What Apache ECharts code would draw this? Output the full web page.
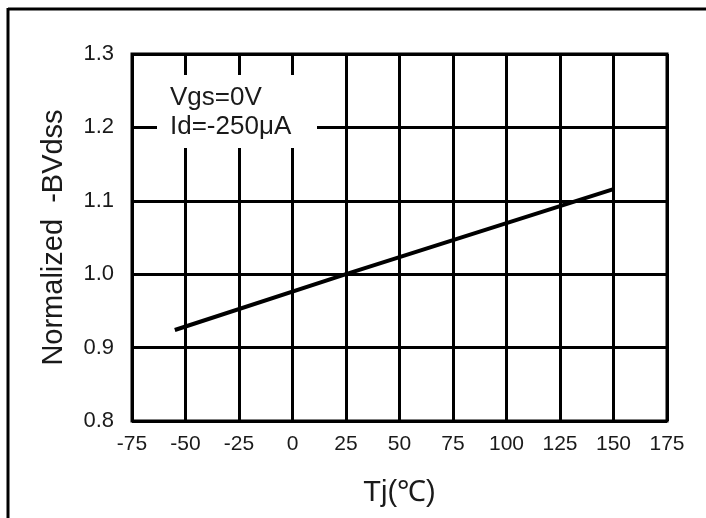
<!DOCTYPE html>
<html>
<head>
<meta charset="utf-8">
<script src="https://cdn.jsdelivr.net/npm/echarts@6/dist/echarts.min.js"></script>
<style>
html,body{margin:0;padding:0;background:#fff;}
#c{width:706px;height:518px;}
</style>
</head>
<body>
<div id="c"></div>
<script>
const temps = [-55, 25, 150];
const bvdss = [0.924, 1.0, 1.116];
const xTicks = [-75, -50, -25, 0, 25, 50, 75, 100, 125, 150, 175];
const yTicks = [0.8, 0.9, 1.0, 1.1, 1.2, 1.3];
const annotation = ['Vgs=0V', 'Id=-250μA'];

const FONT = '"Liberation Sans", Arial, sans-serif';
const chart = echarts.init(document.getElementById('c'), null, {renderer: 'canvas'});
chart.setOption({
  backgroundColor: '#fff',
  animation: false,
  grid: {left: 132, right: 39, top: 54, bottom: 97, show: true, borderColor: '#000', borderWidth: 3, backgroundColor: 'transparent'},
  xAxis: {
    type: 'value', min: xTicks[0], max: xTicks[xTicks.length - 1], interval: 25,
    name: 'Tj(℃)', nameLocation: 'middle', nameGap: 57,
    nameTextStyle: {fontFamily: FONT, fontSize: 29, color: '#1a1a1a'},
    axisLine: {show: false}, axisTick: {show: false},
    axisLabel: {fontFamily: FONT, fontSize: 21, color: '#1a1a1a', margin: 13},
    splitLine: {show: true, lineStyle: {color: '#000', width: 3}}
  },
  yAxis: {
    type: 'value', min: yTicks[0], max: yTicks[yTicks.length - 1], interval: 0.1,
    name: 'Normalized  -BVdss', nameLocation: 'middle', nameGap: 64, nameRotate: 90,
    nameTextStyle: {fontFamily: FONT, fontSize: 29, color: '#1a1a1a'},
    axisLine: {show: false}, axisTick: {show: false},
    axisLabel: {fontFamily: FONT, fontSize: 22, color: '#1a1a1a', margin: 18,
      formatter: v => v.toFixed(1)},
    splitLine: {show: true, lineStyle: {color: '#000', width: 3}}
  },
  graphic: [
    {type: 'rect', shape: {x: 157, y: 75, width: 160, height: 73}, style: {fill: '#fff'}, z: 5},
    {type: 'text', x: 170, y: 98, style: {text: annotation[0], font: '26px ' + FONT, fill: '#1a1a1a', verticalAlign: 'middle'}, z: 6},
    {type: 'text', x: 170, y: 127, style: {text: annotation[1], font: '26px ' + FONT, fill: '#1a1a1a', verticalAlign: 'middle'}, z: 6},
    {type: 'line', shape: {x1: 8, y1: 9, x2: 706, y2: 9}, style: {stroke: '#000', lineWidth: 3}},
    {type: 'line', shape: {x1: 8, y1: 8, x2: 8, y2: 518}, style: {stroke: '#000', lineWidth: 3}}
  ],
  series: [{
    type: 'line', data: temps.map((t, i) => [t, bvdss[i]]),
    showSymbol: false, smooth: false,
    lineStyle: {color: '#000', width: 4}, z: 10
  }]
});
</script>
</body>
</html>
